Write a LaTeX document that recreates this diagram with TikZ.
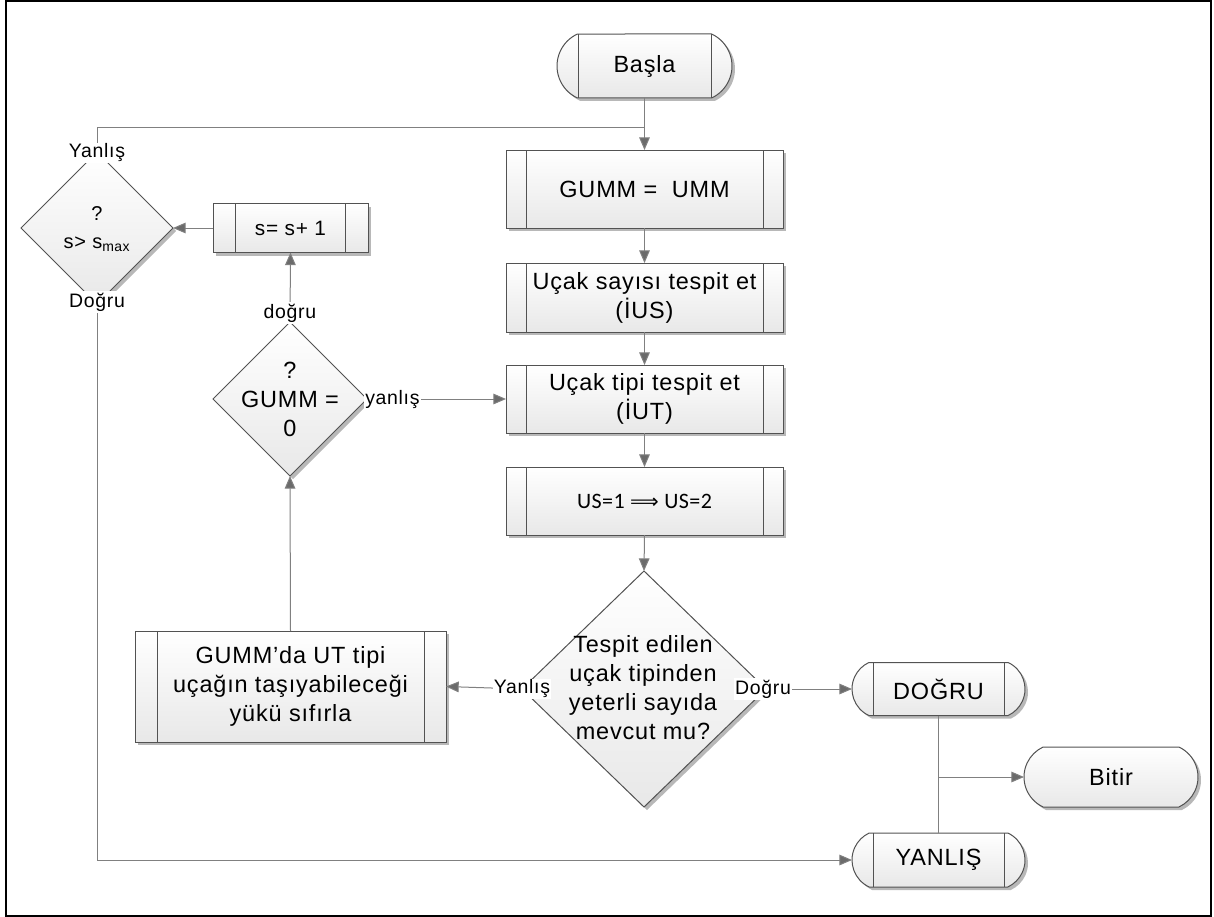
\documentclass[tikz,border=0pt]{standalone}
\usepackage{fontspec}
\setmainfont{Liberation Sans}
\newfontfamily\widefont[LetterSpace=3.5]{Liberation Sans}
\newfontfamily\calibrifont[LetterSpace=2]{Carlito}
\newfontfamily\arrowfont{DejaVu Sans}
\usetikzlibrary{shapes.geometric,shapes.misc,shadows,arrows.meta}
\newdimen\pxl \pxl=0.75pt

\begin{document}
\begin{tikzpicture}[x=0.75pt,y=-0.75pt,
  every node/.style={inner sep=0pt, outer sep=0pt},
  maintext/.style={font=\widefont\fontsize{17.6}{21.75}\selectfont, align=center},
  shapeline/.style={draw=black!68, line width=0.75pt},
  boxfill/.style={top color=white, bottom color=black!9,
    general shadow={fill=black!28, shadow xshift=3\pxl, shadow yshift=-3\pxl}},
  procbox/.style={shapeline, boxfill, rectangle, maintext},
  termbox/.style={shapeline, boxfill, rounded rectangle,
    rounded rectangle arc length=130, maintext},
  decision/.style={shapeline, boxfill, diamond},
  conn/.style={draw=black!50, line width=0.75pt},
  flow/.style={conn, -{Triangle[length=9.5pt,width=8pt,fill=black!58]}},
  sidebar/.style={draw=black!68, line width=0.75pt},
  lbl/.style={fill=white, font=\widefont\fontsize{14.6}{17}\selectfont, inner sep=1pt}
]
\useasboundingbox (0,0) rectangle (1214,917);
\draw[line width=1.5pt] (6,1) rectangle (1210.5,915.5);

% ---- main column ----
\node[termbox, minimum width=175\pxl, minimum height=64\pxl] (start) at (644.5,66) {Başla};
\node[procbox, minimum width=277\pxl, minimum height=78\pxl] (gumm) at (644.5,189) {GUMM =\ \ UMM};
\node[procbox, minimum width=277\pxl, minimum height=69\pxl] (ucs) at (644.5,297.5) {Uçak sayısı tespit et\\(İUS)};
\node[procbox, minimum width=277\pxl, minimum height=68\pxl] (uct) at (644.5,399) {Uçak tipi tespit et\\(İUT)};
\node[procbox, minimum width=277\pxl, minimum height=68\pxl, font=\calibrifont\fontsize{16.5}{19}\selectfont] (us) at (644.5,501) {US=1 {\arrowfont\fontsize{15}{19}\selectfont ⟹} US=2};
\node[decision, minimum width=244\pxl, minimum height=236\pxl] (test) at (644,689) {};
\node[maintext] (testtxt) at (643,688) {Tespit edilen\\uçak tipinden\\yeterli sayıda\\mevcut mu?};

% ---- end nodes ----
\node[termbox, minimum width=173\pxl, minimum height=53\pxl] (dogru) at (938.5,689) {DOĞRU};
\node[termbox, minimum width=174\pxl, minimum height=60\pxl] (bitir) at (1111,777) {Bitir};
\node[termbox, minimum width=173\pxl, minimum height=54\pxl] (yanlis) at (938.5,860) {YANLIŞ};

% ---- left loop ----
\node[procbox, minimum width=311\pxl, minimum height=111\pxl] (sifirla) at (290.5,686.5) {GUMM’da UT tipi\\uçağın taşıyabileceği\\yükü sıfırla};
\node[decision, minimum width=154\pxl, minimum height=154\pxl] (gzero) at (290,399) {};
\node[maintext] (gzerotxt) at (290,399) {?\\GUMM =\\0};
\node[procbox, minimum width=155\pxl, minimum height=49\pxl, font=\widefont\fontsize{15.6}{18}\selectfont] (sinc) at (290.5,228) {s= s+ 1};
\node[decision, minimum width=152\pxl, minimum height=152\pxl] (smax) at (97,228) {};
\node[maintext, font=\widefont\fontsize{15}{21}\selectfont] (smaxtxt) at (97,229) {?\\s> s\textsubscript{max}};

% ---- inner side bars of the process and terminal shapes ----
\foreach \n/\d in {start/66.5, dogru/65.5, yanlis/65.5, gumm/118.5, ucs/118.5, uct/118.5, us/118.5, sifirla/133.5, sinc/55}{
  \draw[sidebar] ([xshift=-\d\pxl]\n.north) -- ([xshift=-\d\pxl]\n.south);
  \draw[sidebar] ([xshift=\d\pxl]\n.north) -- ([xshift=\d\pxl]\n.south);
}

% ---- connectors ----
\coordinate (jtop) at (644.5,127);
\coordinate (jbot) at (938.5,777);
\draw[flow] (start.south) -- (gumm.north);
\draw[conn] (smax.north) |- (jtop);
\draw[flow] (gumm.south) -- (ucs.north);
\draw[flow] (ucs.south) -- (uct.north);
\draw[flow] (uct.south) -- (us.north);
\draw[flow] (us.south) -- (test.north);
\draw[flow] (test.west) -- (sifirla.east);
\draw[flow] (test.east) -- (dogru.west);
\draw[flow] (sifirla.north) -- (gzero.south);
\draw[flow] (gzero.east) -- (uct.west);
\draw[flow] (gzero.north) -- (sinc.south);
\draw[flow] (sinc.west) -- (smax.east);
\draw[flow] (smax.south) |- (yanlis.west);
\draw[conn] (dogru.south) -- (yanlis.north);
\draw[flow] (jbot) -- (bitir.west);

% ---- branch labels ----
\node[lbl] (ly1) at (97,153) {Yanlış};
\node[lbl] (ld1) at (97,302) {Doğru};
\node[lbl] (ldog) at (290,313) {doğru};
\node[lbl, anchor=west] (lyan) at (364,400) {yanlış};
\node[lbl] (ly2) at (522,689) {Yanlış};
\node[lbl] (ld2) at (763,689) {Doğru};
\end{tikzpicture}
\end{document}
